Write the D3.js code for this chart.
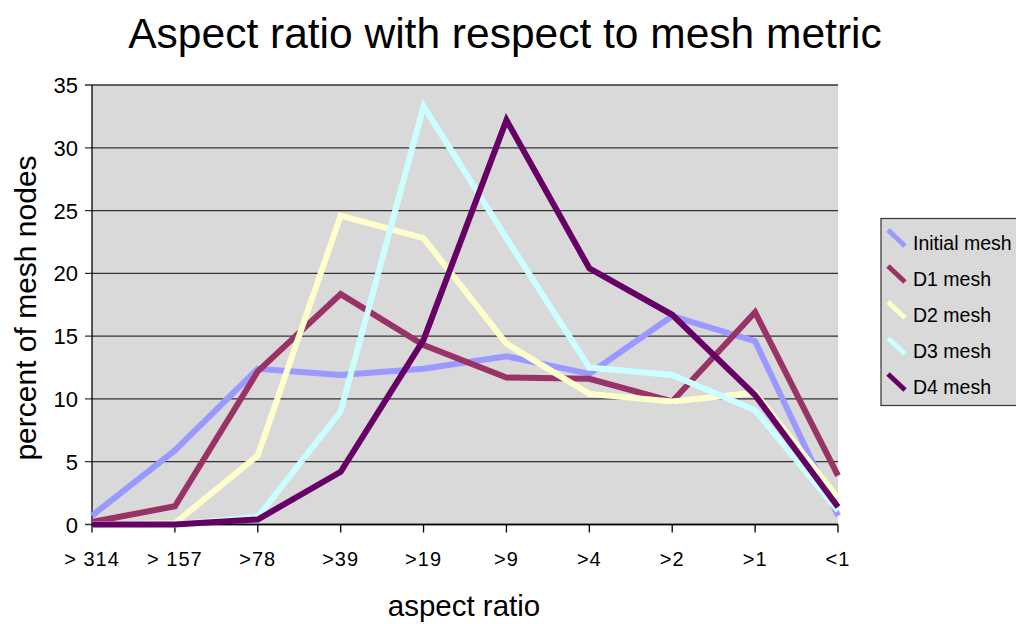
<!DOCTYPE html>
<html><head><meta charset="utf-8">
<script src="https://cdn.jsdelivr.net/npm/d3@7"></script>
<style>body{margin:0;background:#fff;}svg{display:block;font-family:"Liberation Sans",Arial,sans-serif;}</style>
</head><body>
<svg id="c" width="1016" height="624"></svg>
<script>
const categories = ["> 314", "> 157", ">78", ">39", ">19", ">9", ">4", ">2", ">1", "<1"];
const seriesNames = ["Initial mesh", "D1 mesh", "D2 mesh", "D3 mesh", "D4 mesh"];
const seriesColors = ["#9999ff", "#993366", "#ffffcc", "#ccffff", "#660066"];
const initialMesh = [0.7, 5.9, 12.4, 11.9, 12.4, 13.4, 12.0, 16.6, 14.6, 0.7];
const d1Mesh = [0.2, 1.45, 12.2, 18.35, 14.3, 11.7, 11.6, 9.8, 16.9, 3.9];
const d2Mesh = [0, 0.1, 5.5, 24.6, 22.8, 14.4, 10.4, 9.8, 10.5, 2.1];
const d3Mesh = [0, 0, 0.6, 9.0, 33.3, 22.8, 12.5, 11.9, 9.1, 1.1];
const d4Mesh = [0, 0, 0.4, 4.2, 14.7, 32.2, 20.4, 16.7, 10.3, 1.4];
const yTicks = [0, 5, 10, 15, 20, 25, 30, 35];
const allSeries = [initialMesh, d1Mesh, d2Mesh, d3Mesh, d4Mesh];

const svg = d3.select("#c");
const L = 92, R = 838, T = 85, B = 524.5;
const x = d3.scalePoint().domain(categories).range([L, R]).padding(0);
const y = d3.scaleLinear().domain([0, 35]).range([B, T]);

svg.append("rect").attr("x", L).attr("y", T).attr("width", R - L).attr("height", B - T).attr("fill", "#d9d9d9");

// gridlines
svg.append("g").selectAll("line").data(yTicks).join("line")
  .attr("x1", L - 7).attr("x2", R).attr("y1", d => y(d)).attr("y2", d => y(d))
  .attr("stroke", "#333").attr("stroke-width", 1.3);

// y labels
svg.append("g").selectAll("text").data(yTicks).join("text")
  .attr("x", 78).attr("y", d => y(d) + 8).attr("text-anchor", "end")
  .attr("font-size", 22).text(d => d);

// axes lines
svg.append("line").attr("x1", L).attr("x2", L).attr("y1", T).attr("y2", B).attr("stroke", "#000").attr("stroke-width", 1.3);
svg.append("line").attr("x1", L).attr("x2", R).attr("y1", B).attr("y2", B).attr("stroke", "#000").attr("stroke-width", 1.3);
svg.append("g").selectAll("line").data(categories).join("line")
  .attr("x1", d => x(d)).attr("x2", d => x(d)).attr("y1", B).attr("y2", B + 8)
  .attr("stroke", "#000").attr("stroke-width", 1.3);
svg.append("g").selectAll("text").data(categories).join("text")
  .attr("x", d => x(d)).attr("y", 566).attr("text-anchor", "middle")
  .attr("font-size", 20).attr("letter-spacing", 1).text(d => d);

// lines
const line = d3.line().x((d, i) => x(categories[i])).y(d => y(d));
allSeries.forEach((s, k) => {
  svg.append("path").attr("d", line(s)).attr("fill", "none")
    .attr("stroke", seriesColors[k]).attr("stroke-width", 6).attr("stroke-linejoin", "miter");
});

// titles
svg.append("text").attr("x", 505).attr("y", 48).attr("text-anchor", "middle").attr("font-size", 42.5)
  .text("Aspect ratio with respect to mesh metric");
svg.append("text").attr("x", 464).attr("y", 616).attr("text-anchor", "middle").attr("font-size", 29.5)
  .text("aspect ratio");
svg.append("text").attr("transform", "translate(36,308) rotate(-90)").attr("text-anchor", "middle").attr("font-size", 30)
  .text("percent of mesh nodes");

// legend
const lg = svg.append("g");
lg.append("rect").attr("x", 881).attr("y", 218.5).attr("width", 140).attr("height", 187)
  .attr("fill", "#d9d9d9").attr("stroke", "#333").attr("stroke-width", 1.2);
seriesNames.forEach((n, k) => {
  const cy = 242 + k * 36;
  lg.append("line").attr("x1", 888).attr("y1", cy - 12).attr("x2", 905).attr("y2", cy + 4)
    .attr("stroke", seriesColors[k]).attr("stroke-width", 5);
  lg.append("text").attr("x", 913).attr("y", cy + 8).attr("font-size", 19.5).text(n);
});
</script>
</body></html>
